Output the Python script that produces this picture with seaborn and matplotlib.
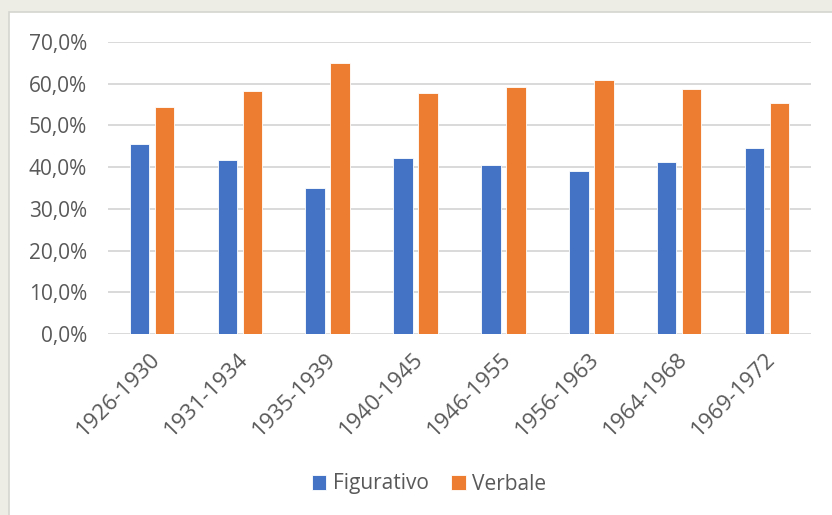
import matplotlib
matplotlib.use("Agg")
import matplotlib.pyplot as plt
import matplotlib.transforms as mtransforms
import seaborn as sns
import pandas as pd
from matplotlib.patches import Rectangle
from matplotlib.ticker import FuncFormatter, MultipleLocator

periods = ["1926-1930", "1931-1934", "1935-1939", "1940-1945",
           "1946-1955", "1956-1963", "1964-1968", "1969-1972"]
figurativo = [0.455, 0.416, 0.349, 0.422, 0.405, 0.391, 0.412, 0.446]
verbale = [0.544, 0.582, 0.649, 0.577, 0.593, 0.608, 0.587, 0.553]
series_names = ["Figurativo", "Verbale"]
colors = ["#4472C4", "#ED7D31"]

df = pd.DataFrame({
    "period": periods * 2,
    "value": figurativo + verbale,
    "series": [series_names[0]] * len(periods) + [series_names[1]] * len(periods),
})

sns.set_style("white")
plt.rcParams["font.family"] = ["Open Sans", "DejaVu Sans"]

fig = plt.figure(figsize=(8.32, 5.15), dpi=100)
fig.patch.set_facecolor("#EDEDE6")
bg = Rectangle((9 / 832, -0.05), 1.0, 1 - 12 / 515 + 0.05,
               transform=fig.transFigure, facecolor="white",
               edgecolor="#D5D5D0", linewidth=1.2, zorder=-10)
fig.patches.append(bg)

ax = fig.add_axes([108 / 832, 1 - 334 / 515, (811 - 108) / 832, (334 - 42) / 515])
ax.set_facecolor("none")
ax.set_zorder(5)

sns.barplot(data=df, x="period", y="value", hue="series", order=periods,
            hue_order=series_names, palette=colors, width=0.57, gap=0.22,
            edgecolor="white", linewidth=0.6, ax=ax, legend=True, errorbar=None,
            saturation=1)

ax.set_ylim(0, 0.7)
ax.set_xlim(-0.5, len(periods) - 0.5)
ax.yaxis.set_major_locator(MultipleLocator(0.1))
ax.yaxis.set_major_formatter(FuncFormatter(lambda v, p: f"{v*100:.1f}%".replace(".", ",")))
ax.grid(axis="y", color="#D9D9D9", linewidth=1.4)
ax.set_axisbelow(True)
for s in ax.spines.values():
    s.set_visible(False)
ax.set_xlabel("")
ax.set_ylabel("")
ax.tick_params(axis="both", length=0, labelcolor="#595959")
ax.tick_params(axis="y", pad=15, labelsize=15)
ax.tick_params(axis="x", pad=13, labelsize=16)
offset = mtransforms.ScaledTranslation(5 / 100, -4 / 100, fig.dpi_scale_trans)
for lbl in ax.get_xticklabels():
    lbl.set_rotation(45)
    lbl.set_ha("right")
    lbl.set_va("center")
    lbl.set_rotation_mode("anchor")
    lbl.set_transform(lbl.get_transform() + offset)

handles, labels = ax.get_legend_handles_labels()
ax.get_legend().remove()
leg = fig.legend(handles, labels, loc="center", bbox_to_anchor=(429 / 832, 1 - 484 / 515),
                 ncol=2, frameon=False, fontsize=15, handlelength=0.7, handleheight=0.7,
                 handletextpad=0.3, columnspacing=1.1, labelcolor="#595959")

fig.savefig("out.png", dpi=100, facecolor=fig.get_facecolor())
